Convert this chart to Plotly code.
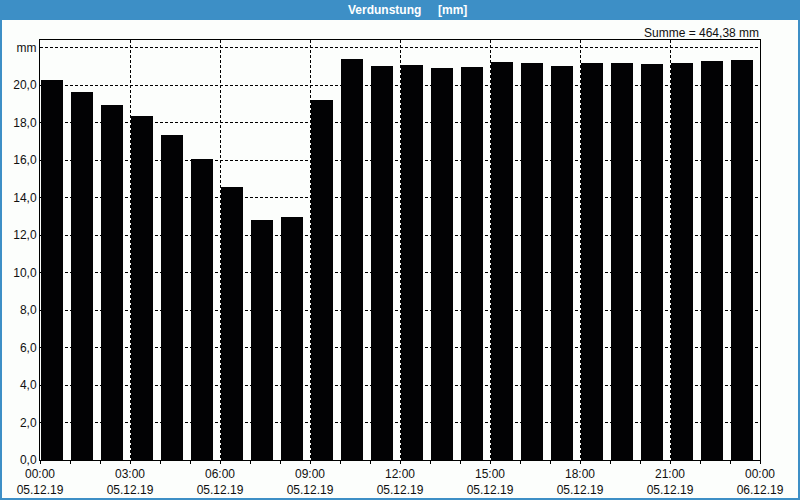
import plotly.graph_objects as go

# ---- data ----
hours = ["2019-12-05 %02d:00" % h for h in range(24)]
values = [20.27, 19.63, 18.93, 18.35, 17.33, 16.05, 14.56, 12.80, 12.96, 19.20,
          21.39, 21.01, 21.07, 20.91, 20.96, 21.23, 21.17, 21.01, 21.17, 21.17,
          21.12, 21.17, 21.28, 21.33]
x_tick_vals = ["2019-12-05 00:00", "2019-12-05 03:00", "2019-12-05 06:00", "2019-12-05 09:00",
               "2019-12-05 12:00", "2019-12-05 15:00", "2019-12-05 18:00", "2019-12-05 21:00",
               "2019-12-06 00:00"]
x_tick_text = ["00:00<br>05.12.19", "03:00<br>05.12.19", "06:00<br>05.12.19", "09:00<br>05.12.19",
               "12:00<br>05.12.19", "15:00<br>05.12.19", "18:00<br>05.12.19", "21:00<br>05.12.19",
               "00:00<br>06.12.19"]
y_tick_vals = [0, 2, 4, 6, 8, 10, 12, 14, 16, 18, 20, 22]
y_tick_text = ["0,0", "2,0", "4,0", "6,0", "8,0", "10,0", "12,0", "14,0", "16,0", "18,0", "20,0", "mm"]
title_text = "Verdunstung\u00a0\u00a0\u00a0\u00a0\u00a0[mm]"
sum_text = "Summe = 464,38 mm"

HOUR_MS = 3600000
BLUE = "#3d8fc6"
FONT = "Liberation Sans"

fig = go.Figure()
fig.add_trace(go.Bar(
    x=hours, y=values,
    offset=0.035 * HOUR_MS, width=0.74 * HOUR_MS,
    marker=dict(color="#020204", line=dict(width=0)),
    showlegend=False,
))

# plot area: x 40..760, y 40..460
L, R, T, B = 40, 40, 40, 40
W, H = 800, 500
pw, ph = W - L - R, H - T - B

def px(x):
    return (x - L) / pw

def py(y):
    return (H - B - y) / ph

fig.update_layout(
    width=W, height=H,
    margin=dict(l=L, r=R, t=T, b=B, pad=0, autoexpand=False),
    paper_bgcolor="#fcfefc",
    plot_bgcolor="#fcfefc",
    font=dict(family=FONT, size=12, color="#101010"),
    bargap=0,
    xaxis=dict(
        type="date", automargin=False,
        range=["2019-12-05 00:00", "2019-12-06 00:00"],
        tickvals=x_tick_vals, ticktext=x_tick_text,
        showgrid=True, gridcolor="#000000", griddash="3px,2px", gridwidth=1,
        showline=True, linecolor="#000000", linewidth=1, mirror=True,
        ticks="outside", ticklen=3, tickcolor="#000000",
        minor=dict(dtick=HOUR_MS, ticks="outside", ticklen=3, tickcolor="#000000", showgrid=False),
        zeroline=False,
        tickfont=dict(family=FONT, size=12, color="#101010"),
    ),
    yaxis=dict(
        range=[0, 22.4], automargin=False,
        tickvals=y_tick_vals, ticktext=y_tick_text,
        showgrid=True, gridcolor="#000000", griddash="3px,2px", gridwidth=1,
        showline=True, linecolor="#000000", linewidth=1, mirror=True,
        ticks="", zeroline=False,
        tickfont=dict(family=FONT, size=12, color="#101010"),
    ),
    shapes=[
        dict(type="rect", xref="paper", yref="paper",
             x0=px(0), x1=px(W), y0=py(20), y1=py(0),
             fillcolor=BLUE, line=dict(width=0), layer="above"),
        dict(type="rect", xref="paper", yref="paper",
             x0=px(1), x1=px(W - 1), y0=py(H - 1), y1=py(1),
             fillcolor="rgba(0,0,0,0)", line=dict(color=BLUE, width=2), layer="above"),
    ],
    annotations=[
        dict(text="<b>" + title_text + "</b>", xref="paper", yref="paper",
             x=px(407), y=py(10), xanchor="center", yanchor="middle",
             showarrow=False, font=dict(family=FONT, size=12, color="#ffffff")),
        dict(text=sum_text, xref="paper", yref="paper",
             x=px(761), y=py(33), xanchor="right", yanchor="middle",
             showarrow=False, font=dict(family=FONT, size=12, color="#101010")),
    ],
)

fig.write_html("out.html")
